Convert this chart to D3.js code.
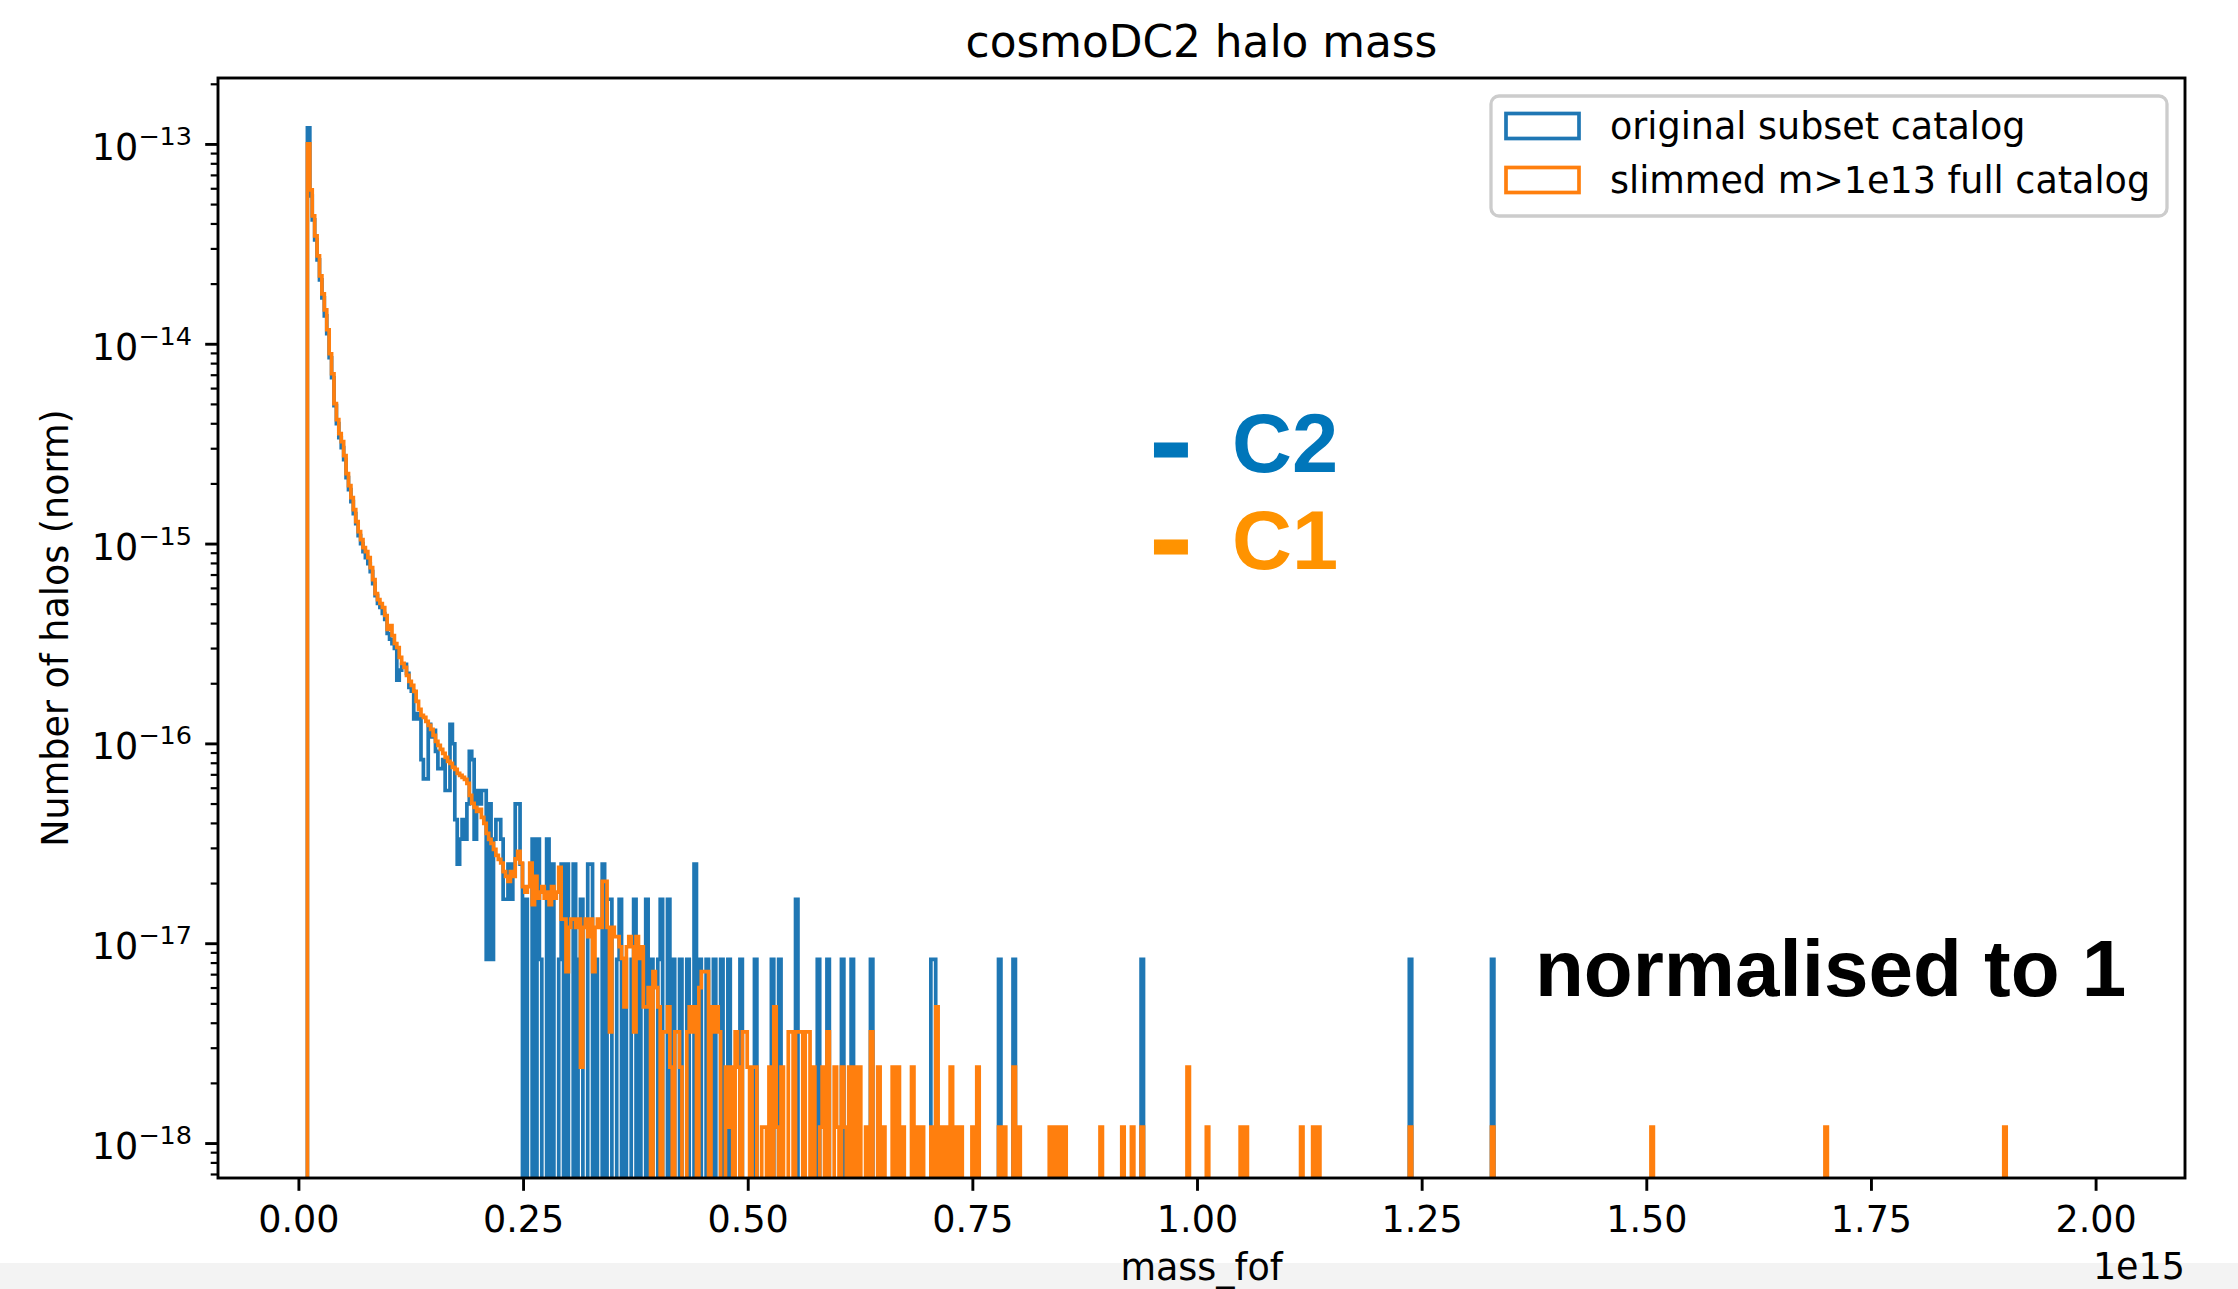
<!DOCTYPE html>
<html>
<head>
<meta charset="utf-8">
<script src="https://cdn.jsdelivr.net/npm/d3@7"></script>
<style>
  body { margin: 0; background: #fff; }
  svg text { font-family: 'DejaVu Sans', sans-serif; }
</style>
</head>
<body>
<svg id="chart" width="2238" height="1289"></svg>
<script>
// ---- data (mass_fof in units of 1e15, normalised counts) ----

// histogram bins shared by both catalogs
let binLo = 0.010
let binHi = 2.0
let nBins = 740

// density of a single halo in one bin (lowest level in the picture)
let c2Unit = 8.3e-18   // original subset catalog (blue)
let c1Unit = 1.2e-18   // slimmed m>1e13 full catalog (orange)

let c2Head = [-12.92, -13.26, -13.38, -13.48, -13.58, -13.68, -13.77, -13.86, -13.95, -14.07,
    -14.17, -14.31, -14.40, -14.47, -14.52, -14.58, -14.67, -14.73, -14.79, -14.85,
    -14.90, -14.96, -15.00, -15.04, -15.07, -15.10, -15.14, -15.20, -15.26, -15.30,
    -15.32, -15.35, -15.38, -15.45]

let c1Head = [-13.00, -13.23, -13.36, -13.46, -13.56, -13.66, -13.75, -13.83, -13.93, -14.05,
    -14.15, -14.30, -14.38, -14.45, -14.49, -14.56, -14.65, -14.71, -14.77, -14.83,
    -14.89, -14.94, -14.98, -15.02, -15.04, -15.07, -15.12, -15.18, -15.25, -15.28,
    -15.30, -15.32, -15.36, -15.43, -15.41, -15.46, -15.50, -15.52, -15.57, -15.60,
    -15.62, -15.66, -15.69, -15.71, -15.74, -15.79, -15.83, -15.86, -15.87, -15.89,
    -15.91, -15.93, -15.96, -15.99, -16.01, -16.03, -16.05, -16.07, -16.09, -16.10,
    -16.12, -16.13, -16.15, -16.16, -16.17, -16.18, -16.20, -16.26, -16.30, -16.32,
    -16.34, -16.33, -16.37, -16.40, -16.45, -16.48, -16.50, -16.53, -16.56, -16.58]

// halo counts per bin right after the head (noisy part)
let c2Counts = [40, 38, 36, 25, 28, 30, 30, 27, 23, 22,
    16, 17, 16, 10, 8, 8, 15, 13, 14, 11,
    9, 9, 10, 7, 7, 15, 12, 5, 3, 4,
    5, 4, 6, 11, 10, 4, 7, 6, 7, 7,
    1, 6, 1, 4, 5, 5, 4, 2, 2, 3,
    2, 3, 6, 6, 3,
    0, 2, 0, 0, 4, 0, 4, 1, 0, 0,
    4, 0, 3, 0, 0, 1, 3, 0, 3, 0,
    0, 3, 0, 1, 2, 0, 0, 3, 3, 0,
    1, 0, 0, 3, 0, 2, 2, 0, 0, 1,
    2, 0, 1, 0, 0, 1, 2, 0, 1, 0,
    0, 2, 0, 1, 0, 0, 1, 2, 0, 0,
    2, 0, 1, 0, 0, 1, 0, 0, 1, 0,
    0, 3, 0, 1, 0, 0, 1, 0, 0, 1,
    0, 0, 1, 0, 0, 1, 0, 0, 0, 0,
    1, 0, 0, 0, 0, 0, 1, 0, 0, 0,
    0, 0, 0, 1, 0, 0, 1, 0, 0, 0,
    0, 0, 0, 2, 0, 0, 0, 0, 0, 0,
    0, 0, 1, 0, 0, 0, 1, 0, 0, 0,
    0, 0, 1, 0, 0, 0]

let c1Counts = [21, 19, 18, 17, 19, 18, 22, 24, 21, 16,
    15, 16, 21, 13, 18, 14, 15, 16, 14, 15,
    13, 16, 14, 15, 20, 11, 11, 6, 10, 11,
    11, 10, 11, 2, 10, 11, 9, 11, 6, 10,
    11, 10, 17, 17, 10, 3, 10, 9, 9, 8,
    7, 4, 8, 9, 8, 3, 9, 7, 8, 4,
    4, 5, 0, 6, 5, 4, 0, 3, 3, 4,
    2, 0, 3, 3, 2, 0, 0, 3, 4, 3,
    4, 0, 5, 6, 6, 6, 0, 4, 3, 4,
    3, 0, 0, 2, 1, 2, 0, 3, 2, 0,
    3, 3, 2, 0, 2, 2, 0, 0, 1, 1,
    0, 2, 0, 4, 1, 0, 2, 0, 0, 3,
    3, 0, 3, 3, 3, 0, 3, 3, 0, 2,
    0, 0, 1, 2, 0, 3, 0, 0, 2, 1,
    0, 2, 1, 0, 2]

// sparse tail: single-bin spikes [mass, count]
let c2Tail = [[0.616, 1], [0.638, 1], [0.705, 1], [0.708, 1], [0.780, 1],
    [0.797, 1], [0.939, 1], [1.238, 1], [1.329, 1]]

let c1Tail = [[0.619, 2], [0.624, 2], [0.633, 1], [0.638, 3], [0.646, 2], [0.651, 1],
    [0.662, 2], [0.667, 2], [0.673, 1], [0.684, 2], [0.689, 1], [0.694, 1],
    [0.705, 1], [0.711, 4], [0.716, 1], [0.721, 1], [0.727, 2], [0.732, 1],
    [0.737, 1], [0.751, 1], [0.756, 2], [0.781, 1], [0.786, 1], [0.797, 2],
    [0.802, 1], [0.837, 1], [0.842, 1], [0.848, 1], [0.853, 1], [0.893, 1],
    [0.918, 1], [0.928, 1], [0.939, 1], [0.990, 2], [1.012, 1], [1.049, 1],
    [1.055, 1], [1.117, 1], [1.130, 1], [1.135, 1], [1.238, 1], [1.329, 1],
    [1.507, 1], [1.700, 1], [1.899, 1]]

let xTicks = [0, 0.25, 0.5, 0.75, 1.0, 1.25, 1.5, 1.75, 2.0]
let yExponents = [-13, -14, -15, -16, -17, -18]
let seriesNames = ["original subset catalog", "slimmed m>1e13 full catalog"]

// ---- layout ----
let width = 2238
let height = 1289
let margin = { top: 78, right: 53, bottom: 111, left: 218 }
let plotRight = width - margin.right
let plotBottom = height - margin.bottom

let blue = "#1f77b4"
let orange = "#ff7f0e"
let fontSize = 36.5

let svg = d3.select("#chart")

// gray strip at the very bottom of the screenshot
svg.append("rect")
    .attr("x", 0).attr("y", 1263)
    .attr("width", width).attr("height", height - 1263)
    .attr("fill", "#f3f3f3")

let x = d3.scaleLinear()
    .domain([-0.0895, 2.0995])
    .range([margin.left, plotRight])

let y = d3.scaleLog()
    .domain([Math.pow(10, -18.175), Math.pow(10, -12.67)])
    .range([plotBottom, margin.top])

// ---- histogram bins ----
let binW = (binHi - binLo) / nBins
let edges = d3.range(nBins + 1).map(i => binLo + i * binW)
let binOf = m => Math.floor((m - binLo) / binW)

function buildBins(head, counts, tail, unit) {
    let v = new Array(nBins).fill(0)
    head.forEach((lg, i) => { v[i] = Math.pow(10, lg) })
    counts.forEach((c, j) => { v[head.length + j] = c * unit })
    tail.forEach(([m, c]) => { v[binOf(m)] = c * unit })
    return v
}

let floorVal = 1e-19 // empty bins drop below the frame
function stepPoints(vals) {
    let pts = [[edges[0], floorVal]]
    vals.forEach((v, i) => {
        let h = v > 0 ? v : floorVal
        pts.push([edges[i], h], [edges[i + 1], h])
    })
    pts.push([edges[nBins], floorVal])
    return pts
}

let line = d3.line()
    .x(d => x(d[0]))
    .y(d => y(d[1]))

svg.append("clipPath").attr("id", "plot-clip")
    .append("rect")
    .attr("x", margin.left).attr("y", margin.top)
    .attr("width", plotRight - margin.left).attr("height", plotBottom - margin.top)

let plot = svg.append("g").attr("clip-path", "url(#plot-clip)")

let series = [
    { vals: buildBins(c2Head, c2Counts, c2Tail, c2Unit), color: blue },
    { vals: buildBins(c1Head, c1Counts, c1Tail, c1Unit), color: orange }
]

series.forEach(s => {
    plot.append("path")
        .attr("d", line(stepPoints(s.vals)))
        .attr("fill", "none")
        .attr("stroke", s.color)
        .attr("stroke-width", 3.7)
        .attr("stroke-linejoin", "miter")
})

// ---- axes ----
let xAxis = d3.axisBottom(x)
    .tickValues(xTicks)
    .tickFormat(d3.format(".2f"))
    .tickSize(12.8)
    .tickSizeOuter(0)
    .tickPadding(15)

svg.append("g")
    .attr("transform", `translate(0,${plotBottom})`)
    .call(xAxis)
    .call(g => g.select(".domain").remove())
    .call(g => g.selectAll("line").attr("stroke", "#000").attr("stroke-width", 2.9))
    .call(g => g.selectAll("text").attr("fill", "#000")
        .style("font-size", fontSize + "px").style("font-family", "'DejaVu Sans'"))

let yMajor = yExponents.map(e => Math.pow(10, e))
let yMinor = []
d3.range(-19, -11).forEach(e => {
    d3.range(2, 10).forEach(k => {
        let v = k * Math.pow(10, e)
        if (v > y.domain()[0] && v < y.domain()[1]) yMinor.push(v)
    })
})

svg.append("g")
    .attr("transform", `translate(${margin.left},0)`)
    .call(d3.axisLeft(y).tickValues(yMajor).tickFormat("").tickSize(12.8).tickSizeOuter(0))
    .call(g => g.select(".domain").remove())
    .call(g => g.selectAll("line").attr("stroke", "#000").attr("stroke-width", 2.9))

svg.append("g")
    .attr("transform", `translate(${margin.left},0)`)
    .call(d3.axisLeft(y).tickValues(yMinor).tickFormat("").tickSize(7.3).tickSizeOuter(0))
    .call(g => g.select(".domain").remove())
    .call(g => g.selectAll("line").attr("stroke", "#000").attr("stroke-width", 2.2))

yExponents.forEach(e => {
    let t = svg.append("text")
        .attr("x", 192)
        .attr("y", y(Math.pow(10, e)) + 16)
        .attr("text-anchor", "end")
        .style("font-size", fontSize + "px")
    t.append("tspan").text("10")
    t.append("tspan").attr("dy", -15).style("font-size", "25.5px").text("\u2212" + Math.abs(e))
})

// frame
svg.append("rect")
    .attr("x", margin.left).attr("y", margin.top)
    .attr("width", plotRight - margin.left).attr("height", plotBottom - margin.top)
    .attr("fill", "none").attr("stroke", "#000").attr("stroke-width", 2.9)

// ---- labels ----
svg.append("text")
    .attr("x", (margin.left + plotRight) / 2).attr("y", 57)
    .attr("text-anchor", "middle")
    .style("font-size", "43.8px")
    .text("cosmoDC2 halo mass")

svg.append("text")
    .attr("x", (margin.left + plotRight) / 2).attr("y", 1280)
    .attr("text-anchor", "middle")
    .style("font-size", fontSize + "px")
    .text("mass_fof")

svg.append("text")
    .attr("x", plotRight).attr("y", 1279)
    .attr("text-anchor", "end")
    .style("font-size", fontSize + "px")
    .text("1e15")

svg.append("text")
    .attr("transform", `translate(68,${(margin.top + plotBottom) / 2}) rotate(-90)`)
    .attr("text-anchor", "middle")
    .style("font-size", fontSize + "px")
    .text("Number of halos (norm)")

// ---- legend ----
let legend = svg.append("g")
legend.append("rect")
    .attr("x", 1491).attr("y", 96).attr("width", 676).attr("height", 120)
    .attr("rx", 8)
    .attr("fill", "#fff").attr("fill-opacity", 0.8)
    .attr("stroke", "#cccccc").attr("stroke-width", 3.3)

seriesNames.forEach((name, i) => {
    let cy = 126 + i * 54
    legend.append("rect")
        .attr("x", 1506).attr("y", cy - 12.5).attr("width", 73).attr("height", 25)
        .attr("fill", "none")
        .attr("stroke", i === 0 ? blue : orange)
        .attr("stroke-width", 3.7)
    legend.append("text")
        .attr("x", 1610).attr("y", cy + 13)
        .style("font-size", fontSize + "px")
        .text(name)
})

// ---- slide annotations ----
let notes = [
    { label: "C2", color: "#0076ba", base: 472 },
    { label: "C1", color: "#ff9300", base: 569 }
]
let noteFont = "'Liberation Sans', Arial, sans-serif"
notes.forEach(n => {
    // bullet dash, a bit heavier than the plain glyph
    svg.append("text")
        .attr("x", 1153).attr("y", n.base)
        .attr("textLength", 36).attr("lengthAdjust", "spacingAndGlyphs")
        .style("font-family", noteFont)
        .style("font-weight", "bold").style("font-size", "83px")
        .attr("fill", n.color)
        .attr("stroke", n.color).attr("stroke-width", 5)
        .text("-")
    svg.append("text")
        .attr("x", 1232).attr("y", n.base)
        .style("font-family", noteFont)
        .style("font-weight", "bold").style("font-size", "83px")
        .attr("fill", n.color)
        .text(n.label)
})

svg.append("text")
    .attr("x", 1535).attr("y", 996)
    .style("font-family", noteFont)
    .style("font-weight", "bold").style("font-size", "80px")
    .attr("fill", "#000")
    .text("normalised to 1")
</script>
</body>
</html>
